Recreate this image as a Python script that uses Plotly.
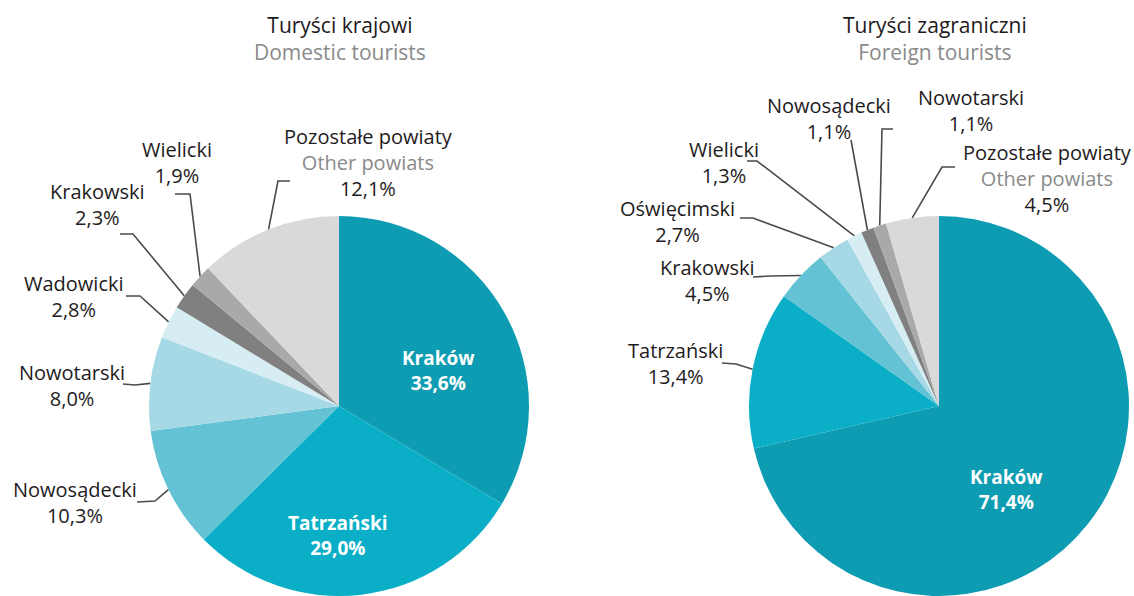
import math
import plotly.graph_objects as go

W, H = 1134, 596

# --- data -------------------------------------------------------------
dom_labels = ["Kraków", "Tatrzański", "Nowosądecki", "Nowotarski",
              "Wadowicki", "Krakowski", "Wielicki", "Pozostałe powiaty"]
dom_values = [33.6, 29.0, 10.3, 8.0, 2.8, 2.3, 1.9, 12.1]

for_labels = ["Kraków", "Tatrzański", "Krakowski", "Oświęcimski",
              "Wielicki", "Nowosądecki", "Nowotarski", "Pozostałe powiaty"]
for_values = [71.4, 13.4, 4.5, 2.7, 1.3, 1.1, 1.1, 4.5]

other_en = "Other powiats"
titles_pl = ["Turyści krajowi", "Turyści zagraniczni"]
titles_en = ["Domestic tourists", "Foreign tourists"]

# --- styling / layout -------------------------------------------------
slice_colors = ["#0e9cb2", "#0aafc7", "#63c3d5", "#a6d9e5",
                "#d5edf3", "#808080", "#a9a9a9", "#d9d9d9"]
FONT = "Open Sans"
BLACK = "#1e1b1c"
GREY = "#8a8a8a"
LINE = "#4a4a4a"

# pie centre (px) and radius, label block centres and leader start / elbow (px)
pies = [
    dict(values=dom_values, labels=dom_labels, cx=339, cy=406, r=190, title_x=340,
         inside=[0, 1],
         text_xy=[(438, 370), (338, 535), (75, 502), (72, 385), (74, 296),
                  (97, 204), (177, 162), (368, 162)],
         leader=[None, None, [(137, 502), (155, 501)], [(123, 384), (135, 385)],
                 [(126, 296), (140, 296)], [(120, 234), (133, 234)],
                 [(175, 194), (190, 194)], [(290, 181), (278, 181)]]),
    dict(values=for_values, labels=for_labels, cx=939, cy=406, r=190, title_x=935,
         inside=[0],
         text_xy=[(1006, 489), (675, 363), (707, 280), (677, 221), (724, 162),
                  (829, 118), (971, 110), (1047, 178)],
         leader=[None, [(722, 363), (736, 364)], [(753, 277), (770, 276)],
                 [(740, 218), (753, 218)], [(747, 161), (757, 161)],
                 [(851, 140), (851, 140)], [(893, 129), (882, 129)],
                 [(955, 167), (942, 167)]]),
]


def pct(v):
    return f"{v:.1f}".replace(".", ",") + "%"


def edge_point(values, i, cx, cy, r):
    tot = sum(values)
    mid = (sum(values[:i]) + values[i] / 2) / tot * 2 * math.pi
    return cx + r * math.sin(mid), cy - r * math.cos(mid)


fig = go.Figure()
annotations = []

for p in pies:
    vals, labs = p["values"], p["labels"]
    cx, cy, r = p["cx"], p["cy"], p["r"]
    fig.add_trace(go.Pie(
        values=vals, labels=labs, textinfo="none",
        marker=dict(colors=slice_colors, line=dict(width=0)),
        sort=False, direction="clockwise", rotation=0,
        domain=dict(x=[(cx - r) / W, (cx + r) / W],
                    y=[(H - cy - r) / H, (H - cy + r) / H]),
        hoverinfo="label+value", showlegend=False,
    ))

    for i, (lab, v) in enumerate(zip(labs, vals)):
        tx, ty = p["text_xy"][i]
        if i in p["inside"]:
            annotations.append(dict(x=tx, y=ty, xref="x", yref="y",
                                    text=f"<b>{lab}<br>{pct(v)}</b>", showarrow=False,
                                    xanchor="center", yanchor="middle",
                                    font=dict(family=FONT, size=19, color="white")))
            continue
        if lab == "Pozostałe powiaty":
            t = f"{lab}<br><span style='color:{GREY}'>{other_en}</span><br>{pct(v)}"
        else:
            t = f"{lab}<br>{pct(v)}"
        annotations.append(dict(x=tx, y=ty, xref="x", yref="y", text=t, showarrow=False,
                                xanchor="center", yanchor="middle",
                                font=dict(family=FONT, size=20, color=BLACK)))
        (sx, sy), (ex, ey) = p["leader"][i]
        ax_, ay_ = edge_point(vals, i, cx, cy, r)
        fig.add_trace(go.Scatter(x=[sx, ex, ax_], y=[sy, ey, ay_], mode="lines",
                                 line=dict(color=LINE, width=1.6),
                                 hoverinfo="skip", showlegend=False))

for k, p in enumerate(pies):
    annotations.append(dict(
        x=p["title_x"], y=38, xref="x", yref="y", showarrow=False,
        text=f"{titles_pl[k]}<br><span style='color:{GREY}'>{titles_en[k]}</span>",
        xanchor="center", yanchor="middle",
        font=dict(family=FONT, size=21, color=BLACK)))

fig.update_layout(
    width=W, height=H,
    margin=dict(l=0, r=0, t=0, b=0),
    paper_bgcolor="white", plot_bgcolor="white",
    xaxis=dict(range=[0, W], visible=False, fixedrange=True, domain=[0, 1]),
    yaxis=dict(range=[H, 0], visible=False, fixedrange=True, domain=[0, 1]),
    annotations=annotations,
    font=dict(family=FONT),
)

fig.write_html("out.html", config={"displayModeBar": False},
               post_script="document.body.style.margin='0';")
